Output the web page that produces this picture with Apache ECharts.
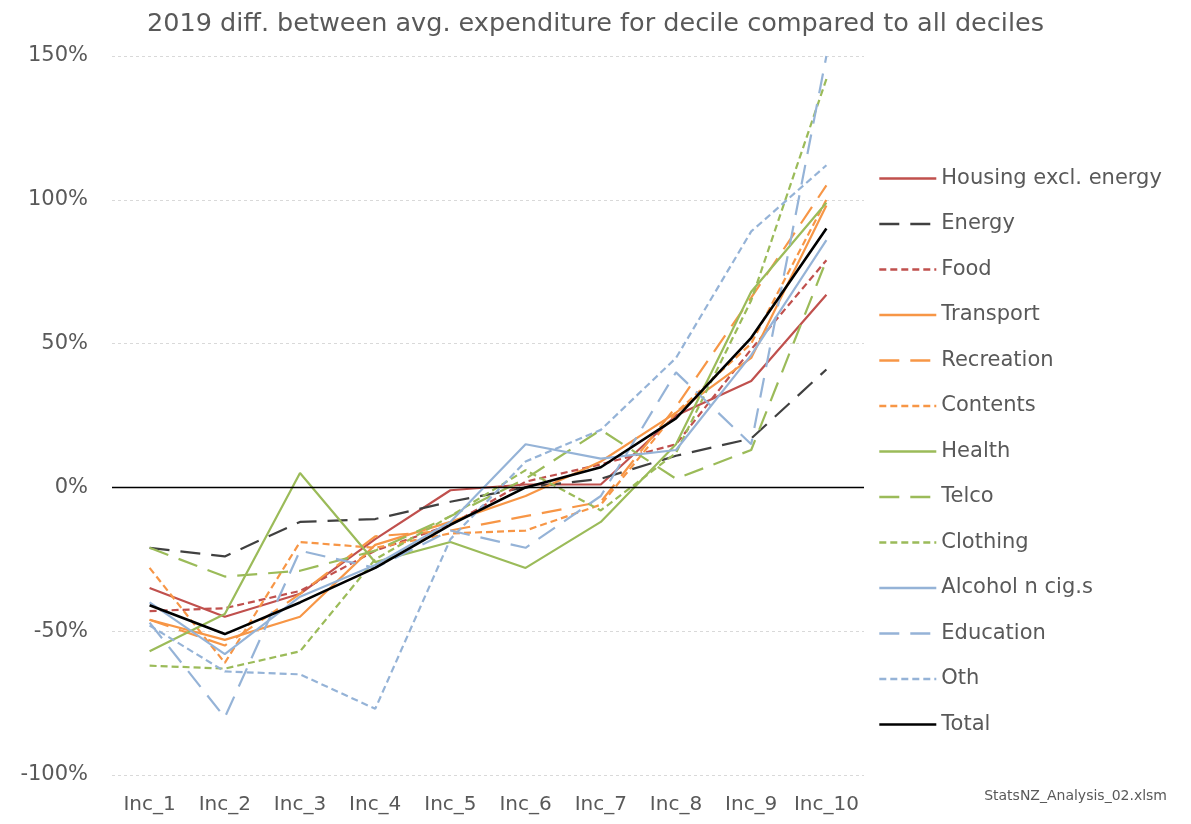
<!DOCTYPE html>
<html>
<head>
<meta charset="utf-8">
<script src="https://cdn.jsdelivr.net/npm/echarts@6/dist/echarts.min.js"></script>
<style>
  html, body { margin: 0; padding: 0; background: #fff; }
  #chart { width: 1191px; height: 824px; }
</style>
</head>
<body>
<div id="chart"></div>
<script>
// categories and values (percent difference vs all deciles)
var deciles = ['Inc_1', 'Inc_2', 'Inc_3', 'Inc_4', 'Inc_5', 'Inc_6', 'Inc_7', 'Inc_8', 'Inc_9', 'Inc_10'];
var yTicks = [-100, -50, 0, 50, 100, 150];

var housing    = [-35, -45, -37, -18, -1, 1, 1, 25, 37, 67];
var energy     = [-21, -24, -12, -11, -5, 0, 3, 11, 17, 41];
var food       = [-43, -42, -36, -22, -13, 2, 8, 15, 48, 79];
var transport  = [-46, -53, -45, -20, -12, -3, 9, 26, 45, 98];
var recreation = [-46, -55, -37, -17, -15, -10, -5, 28, 66, 105];
var contents   = [-28, -61, -19, -21, -16, -15, -6, 26, 50, 100];
var health     = [-57, -44, 5, -26, -19, -28, -12, 15, 68, 99];
var telco      = [-21, -31, -29, -22, -10, 3, 20, 3, 13, 79];
var clothing   = [-62, -63, -57, -25, -10, 6, -8, 12, 65, 142];
var alcohol    = [-40, -58, -38, -27, -12, 15, 10, 13, 46, 86];
var education  = [-47, -80, -22, -28, -15, -21, -3, 40, 15, 150];
var oth        = [-48, -64, -65, -77, -18, 9, 20, 45, 89, 112];
var total      = [-41, -51, -40, -28, -13, 0, 7, 24, 52, 90];

var LONG = [20, 11];
var SHORT = [7, 4];
var FONT = 'DejaVu Sans';

function line(name, data, color, type, width) {
    return {
        name: name,
        type: 'line',
        data: data,
        symbol: 'none',
        lineStyle: { color: color, width: width || 2.2, type: type },
        itemStyle: { color: color }
    };
}

var series = [
    line('Housing excl. energy', housing, '#C0504D', 'solid'),
    line('Energy', energy, '#404040', LONG),
    line('Food', food, '#C0504D', SHORT),
    line('Transport', transport, '#F79646', 'solid'),
    line('Recreation', recreation, '#F79646', LONG),
    line('Contents', contents, '#F79646', SHORT),
    line('Health', health, '#9BBB59', 'solid'),
    line('Telco', telco, '#9BBB59', LONG),
    line('Clothing', clothing, '#9BBB59', SHORT),
    line('Alcohol n cig.s', alcohol, '#95B3D7', 'solid'),
    line('Education', education, '#95B3D7', LONG),
    line('Oth', oth, '#95B3D7', SHORT),
    line('Total', total, '#000000', 'solid', 2.6)
];

// zero line
series[series.length - 1].markLine = {
    silent: true,
    symbol: 'none',
    label: { show: false },
    lineStyle: { color: '#000', width: 1.3, type: 'solid' },
    data: [{ yAxis: 0 }]
};

var chart = echarts.init(document.getElementById('chart'));
var option = {
    animation: false,
    backgroundColor: '#fff',
    textStyle: { fontFamily: FONT },
    title: {
        text: '2019 diff. between avg. expenditure for decile compared to all deciles',
        left: 'center',
        top: 6,
        textStyle: { fontSize: 25.5, fontWeight: 'normal', color: '#595959', fontFamily: FONT }
    },
    grid: { left: 112, right: 327, top: 56, bottom: 49 },
    legend: {
        orient: 'vertical',
        left: 873,
        top: 163,
        itemWidth: 57,
        itemHeight: 14,
        itemGap: 24.5,
        itemStyle: { opacity: 0 },
        lineStyle: { width: 2.6 },
        textStyle: { fontSize: 21, color: '#595959', fontFamily: FONT },
        data: series.map(function (s) { return s.name; })
    },
    xAxis: {
        type: 'category',
        data: deciles,
        boundaryGap: true,
        axisLine: { show: false },
        axisTick: { show: false },
        axisLabel: { interval: 0, fontSize: 20, color: '#595959', margin: 20, fontFamily: FONT }
    },
    yAxis: {
        type: 'value',
        min: yTicks[0],
        max: yTicks[yTicks.length - 1],
        interval: 50,
        axisLine: { show: false },
        axisTick: { show: false },
        axisLabel: { fontSize: 21, color: '#595959', margin: 24, formatter: '{value}%', fontFamily: FONT },
        splitLine: { lineStyle: { color: '#D9D9D9', type: [3, 3] } }
    },
    graphic: [{
        type: 'text',
        right: 24,
        top: 789,
        style: { text: 'StatsNZ_Analysis_02.xlsm', fontSize: 14, fill: '#595959', fontFamily: FONT }
    }],
    series: series
};
chart.setOption(option);
</script>
</body>
</html>
